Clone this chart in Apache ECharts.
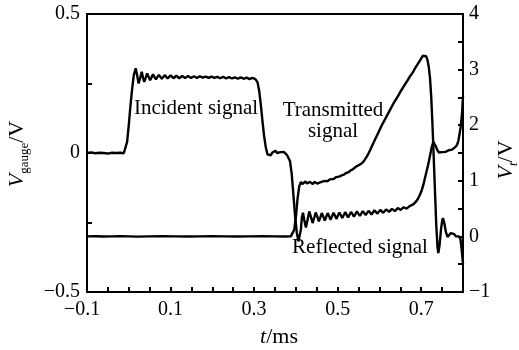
<!DOCTYPE html>
<html>
<head>
<meta charset="utf-8">
<title>Incident, reflected and transmitted signals</title>
<script src="https://cdn.jsdelivr.net/npm/echarts@6/dist/echarts.min.js"></script>
<style>
    html, body { margin: 0; padding: 0; background: #fff; }
    #chart { width: 519px; height: 350px; }
</style>
</head>
<body>
<div id="chart"></div>
<script>
// incident + reflected signal, left axis (V_gauge / V)
var gaugeTime = [
    -0.100, -0.090, -0.080, -0.070, -0.060, -0.050, -0.040, -0.030, -0.020, -0.012,
    -0.008, -0.004, 0.000, 0.004, 0.008, 0.012, 0.0165, 0.020, 0.0235, 0.027,
    0.031, 0.034, 0.037, 0.0405, 0.044, 0.0475, 0.051, 0.0545, 0.058, 0.0615,
    0.065, 0.0685, 0.072, 0.0755, 0.079, 0.0825, 0.086, 0.0895, 0.093, 0.0965,
    0.100, 0.1035, 0.107, 0.1105, 0.114, 0.1175, 0.121, 0.128, 0.135, 0.142,
    0.149, 0.156, 0.163, 0.170, 0.177, 0.184, 0.191, 0.198, 0.205, 0.212,
    0.219, 0.226, 0.233, 0.240, 0.247, 0.254, 0.261, 0.268, 0.275, 0.282,
    0.289, 0.296, 0.303, 0.308, 0.312, 0.316, 0.320, 0.324, 0.328, 0.332,
    0.336, 0.340, 0.344, 0.348, 0.351, 0.355, 0.359, 0.363, 0.367, 0.371,
    0.375, 0.379, 0.383, 0.386, 0.390, 0.394, 0.398, 0.402, 0.406, 0.409,
    0.412, 0.4145, 0.417, 0.420, 0.424, 0.428, 0.432, 0.436, 0.440, 0.444,
    0.4475, 0.451, 0.455, 0.4585, 0.462, 0.4655, 0.469, 0.4725, 0.476, 0.4795,
    0.483, 0.4865, 0.490, 0.4935, 0.497, 0.5005, 0.504, 0.5075, 0.511, 0.5145,
    0.518, 0.5215, 0.525, 0.5285, 0.532, 0.5355, 0.539, 0.5425, 0.546, 0.5495,
    0.553, 0.5565, 0.560, 0.5635, 0.567, 0.5705, 0.574, 0.5775, 0.581, 0.5845,
    0.588, 0.5915, 0.595, 0.5985, 0.602, 0.6055, 0.609, 0.6125, 0.616, 0.6195,
    0.623, 0.6265, 0.630, 0.6335, 0.637, 0.6405, 0.644, 0.6475, 0.651, 0.6545,
    0.658, 0.6615, 0.665, 0.669, 0.673, 0.677, 0.681, 0.685, 0.689, 0.693,
    0.697, 0.701, 0.705, 0.709, 0.713, 0.717, 0.721, 0.725, 0.729, 0.732,
    0.735, 0.738, 0.742, 0.746, 0.750, 0.754, 0.758, 0.762, 0.766, 0.770,
    0.774, 0.778, 0.782, 0.786, 0.789, 0.792, 0.795, 0.798, 0.800
];
var gaugeVolt = [
    0.000, 0.002, -0.001, 0.001, 0.000, -0.002, 0.001, 0.000, 0.001, -0.001,
    0.005, 0.040, 0.100, 0.170, 0.230, 0.280, 0.305, 0.280, 0.250, 0.268,
    0.292, 0.272, 0.256, 0.270, 0.286, 0.274, 0.262, 0.272, 0.283, 0.274,
    0.265, 0.272, 0.281, 0.274, 0.267, 0.273, 0.280, 0.273, 0.268, 0.273,
    0.279, 0.273, 0.269, 0.273, 0.278, 0.273, 0.269, 0.277, 0.270, 0.277,
    0.270, 0.276, 0.270, 0.276, 0.271, 0.275, 0.270, 0.275, 0.270, 0.274,
    0.269, 0.274, 0.268, 0.273, 0.268, 0.272, 0.267, 0.272, 0.267, 0.271,
    0.266, 0.270, 0.266, 0.255, 0.225, 0.175, 0.115, 0.060, 0.020, -0.005,
    -0.012, -0.008, 0.002, 0.008, 0.008, 0.000, -0.004, 0.003, 0.008, 0.004,
    -0.002, -0.008, -0.014, -0.030, -0.075, -0.150, -0.225, -0.285, -0.318, -0.315,
    -0.275, -0.230, -0.215, -0.240, -0.268, -0.240, -0.210, -0.230, -0.252, -0.232,
    -0.214, -0.228, -0.246, -0.232, -0.216, -0.228, -0.243, -0.230, -0.216, -0.227,
    -0.240, -0.228, -0.215, -0.225, -0.237, -0.226, -0.214, -0.223, -0.234, -0.224,
    -0.213, -0.222, -0.232, -0.222, -0.212, -0.220, -0.229, -0.220, -0.210, -0.218,
    -0.226, -0.218, -0.209, -0.216, -0.223, -0.216, -0.208, -0.214, -0.221, -0.214,
    -0.206, -0.212, -0.218, -0.212, -0.205, -0.210, -0.215, -0.209, -0.203, -0.208,
    -0.212, -0.207, -0.201, -0.205, -0.209, -0.204, -0.198, -0.202, -0.205, -0.200,
    -0.195, -0.198, -0.200, -0.195, -0.190, -0.188, -0.185, -0.180, -0.172, -0.162,
    -0.150, -0.135, -0.115, -0.090, -0.065, -0.040, -0.010, 0.020, 0.040, 0.036,
    0.024, 0.012, 0.002, 0.000, 0.003, 0.007, 0.004, 0.006, 0.010, 0.014,
    0.012, 0.018, 0.022, 0.030, 0.045, 0.070, 0.100, 0.150, 0.205
];

// transmitted signal, right axis (V_t / V)
var transTime = [
    -0.100, -0.080, -0.060, -0.040, -0.020, 0.000, 0.020, 0.050, 0.080, 0.110,
    0.140, 0.170, 0.200, 0.230, 0.260, 0.290, 0.320, 0.350, 0.370, 0.388,
    0.392, 0.396, 0.400, 0.404, 0.408, 0.412, 0.4155, 0.4195, 0.423, 0.4265,
    0.430, 0.4335, 0.437, 0.4405, 0.444, 0.4475, 0.451, 0.4545, 0.458, 0.4615,
    0.465, 0.470, 0.475, 0.480, 0.485, 0.490, 0.495, 0.500, 0.505, 0.510,
    0.515, 0.520, 0.525, 0.530, 0.535, 0.540, 0.545, 0.550, 0.555, 0.560,
    0.565, 0.570, 0.575, 0.580, 0.585, 0.590, 0.595, 0.600, 0.605, 0.610,
    0.615, 0.620, 0.625, 0.630, 0.635, 0.640, 0.645, 0.650, 0.655, 0.660,
    0.665, 0.670, 0.675, 0.680, 0.685, 0.690, 0.695, 0.700, 0.704, 0.708,
    0.712, 0.715, 0.718, 0.721, 0.724, 0.727, 0.730, 0.733, 0.736, 0.739,
    0.741, 0.744, 0.747, 0.750, 0.752, 0.755, 0.759, 0.763, 0.767, 0.771,
    0.775, 0.779, 0.783, 0.787, 0.791, 0.794, 0.797, 0.800
];
var transVolt = [
    0.000, 0.004, -0.003, 0.000, 0.003, 0.000, -0.004, 0.000, 0.003, 0.000,
    -0.003, 0.000, 0.004, 0.000, -0.003, 0.000, 0.003, 0.000, -0.003, 0.000,
    0.02, 0.12, 0.35, 0.68, 0.90, 0.98, 0.94, 0.93, 0.99, 0.95,
    0.93, 0.98, 0.95, 0.94, 0.98, 0.96, 0.95, 0.98, 0.97, 0.96,
    0.99, 1.00, 0.99, 1.02, 1.03, 1.03, 1.06, 1.07, 1.08, 1.10,
    1.11, 1.14, 1.15, 1.18, 1.20, 1.23, 1.26, 1.28, 1.30, 1.33,
    1.38, 1.44, 1.51, 1.59, 1.67, 1.75, 1.83, 1.91, 1.99, 2.06,
    2.13, 2.20, 2.27, 2.34, 2.41, 2.47, 2.53, 2.60, 2.66, 2.72,
    2.78, 2.84, 2.90, 2.95, 3.02, 3.08, 3.14, 3.20, 3.25, 3.27,
    3.24, 3.17, 3.05, 2.85, 2.50, 2.00, 1.40, 0.80, 0.20, -0.20,
    -0.30, -0.15, 0.10, 0.28, 0.33, 0.25, 0.08, -0.01, 0.02, 0.06,
    0.08, 0.04, 0.00, -0.01, 0.00, -0.05, -0.25, -0.50
];

// tick labels
var xLabelValues = [-0.1, 0.1, 0.3, 0.5, 0.7];
var leftLabelValues = [-0.5, 0, 0.5];
var rightLabelValues = [-1, 0, 1, 2, 3, 4];

var FONT = '"Liberation Serif", "Times New Roman", serif';

function zip(xs, ys) {
    var out = [];
    for (var i = 0; i < xs.length; i++) out.push([xs[i], ys[i]]);
    return out;
}

// only label the listed ticks, with a real minus sign
// (padRight: trailing en space so the digits, not the minus, sit under the tick)
function pickLabel(list, step, padRight) {
    return function (v) {
        for (var i = 0; i < list.length; i++) {
            if (Math.abs(v - list[i]) < step / 10) {
                var s = String(list[i]);
                if (list[i] < 0) {
                    s = s.replace('-', '\u2212');
                    if (padRight) s += '\u2002';
                }
                return s;
            }
        }
        return '';
    };
}

function axisBase() {
    return {
        axisLine: {show: true, onZero: false, lineStyle: {color: '#000', width: 2}},
        axisTick: {show: true, inside: true, length: 5, lineStyle: {color: '#000', width: 2}},
        splitLine: {show: false}
    };
}

var chart = echarts.init(document.getElementById('chart'));

var xAxis = axisBase();
xAxis.type = 'value';
xAxis.min = -0.1;
xAxis.max = 0.8;
xAxis.interval = 0.05;
xAxis.axisLabel = {formatter: pickLabel(xLabelValues, 0.05, true), color: '#000', fontFamily: FONT, fontSize: 20, margin: 8};

var yLeft = axisBase();
yLeft.type = 'value';
yLeft.position = 'left';
yLeft.min = -0.5;
yLeft.max = 0.5;
yLeft.interval = 0.25;
yLeft.axisLabel = {formatter: pickLabel(leftLabelValues, 0.25), color: '#000', fontFamily: FONT, fontSize: 20, margin: 7};

var yRight = axisBase();
yRight.type = 'value';
yRight.position = 'right';
yRight.min = -1;
yRight.max = 4;
yRight.interval = 0.5;
yRight.axisLabel = {formatter: pickLabel(rightLabelValues, 0.5), color: '#000', fontFamily: FONT, fontSize: 20, margin: 6};

var lineStyle = {color: '#000', width: 2.4};

chart.setOption({
    animation: false,
    grid: {left: 87, right: 56, top: 14, bottom: 58, show: true, borderColor: '#000', borderWidth: 2},
    xAxis: xAxis,
    yAxis: [yLeft, yRight],
    series: [
        {type: 'line', yAxisIndex: 0, data: zip(gaugeTime, gaugeVolt), symbol: 'none', lineStyle: lineStyle},
        {type: 'line', yAxisIndex: 1, data: zip(transTime, transVolt), symbol: 'none', lineStyle: lineStyle}
    ],
    graphic: [
        {type: 'text', x: 196, y: 108, style: {text: 'Incident signal', fontFamily: FONT, fontSize: 21, fill: '#000', align: 'center', verticalAlign: 'middle'}},
        {type: 'text', x: 333, y: 110, style: {text: 'Transmitted', fontFamily: FONT, fontSize: 21, fill: '#000', align: 'center', verticalAlign: 'middle'}},
        {type: 'text', x: 333, y: 131, style: {text: 'signal', fontFamily: FONT, fontSize: 21, fill: '#000', align: 'center', verticalAlign: 'middle'}},
        {type: 'text', x: 360, y: 247, style: {text: 'Reflected signal', fontFamily: FONT, fontSize: 21, fill: '#000', align: 'center', verticalAlign: 'middle'}},
        {
            type: 'text', x: 17, y: 154, rotation: Math.PI / 2,
            style: {
                text: '{v|V}{s|gauge}{n|/V}', align: 'center', verticalAlign: 'middle', fill: '#000',
                rich: {
                    v: {fontFamily: FONT, fontSize: 22, fontStyle: 'italic', lineHeight: 28},
                    s: {fontFamily: FONT, fontSize: 13, lineHeight: 13, verticalAlign: 'bottom'},
                    n: {fontFamily: FONT, fontSize: 22, lineHeight: 28}
                }
            }
        },
        {
            type: 'text', x: 506, y: 160, rotation: Math.PI / 2,
            style: {
                text: '{v|V}{s|t}{n|/V}', align: 'center', verticalAlign: 'middle', fill: '#000',
                rich: {
                    v: {fontFamily: FONT, fontSize: 22, fontStyle: 'italic', lineHeight: 28},
                    s: {fontFamily: FONT, fontSize: 13, fontStyle: 'italic', lineHeight: 13, verticalAlign: 'bottom'},
                    n: {fontFamily: FONT, fontSize: 22, lineHeight: 28}
                }
            }
        },
        {
            type: 'text', x: 279, y: 337,
            style: {
                text: '{t|t}{n|/ms}', align: 'center', verticalAlign: 'middle', fill: '#000',
                rich: {
                    t: {fontFamily: FONT, fontSize: 22, fontStyle: 'italic'},
                    n: {fontFamily: FONT, fontSize: 22}
                }
            }
        }
    ]
});
</script>
</body>
</html>
